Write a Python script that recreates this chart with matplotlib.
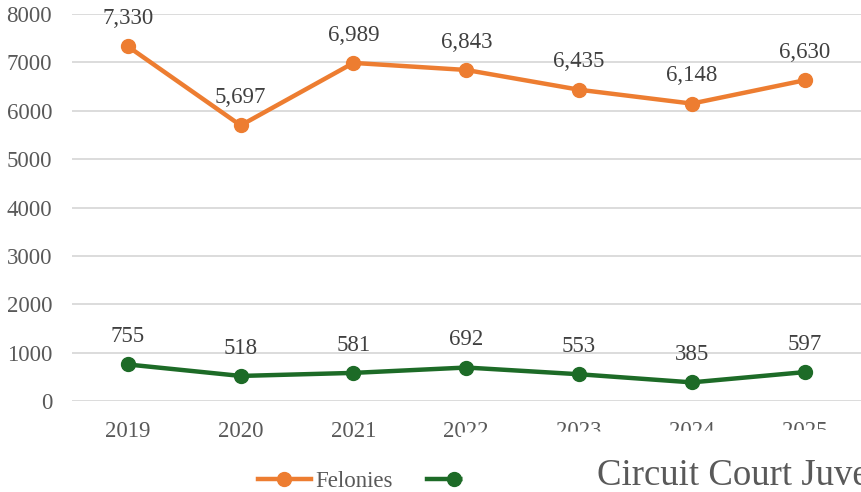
import matplotlib
matplotlib.use("Agg")
import matplotlib.pyplot as plt
from matplotlib.patches import Polygon

years = ["2019", "2020", "2021", "2022", "2023", "2024", "2025"]
felonies = [7330, 5697, 6989, 6843, 6435, 6148, 6630]
other = [755, 518, 581, 692, 553, 385, 597]
yticks = [0, 1000, 2000, 3000, 4000, 5000, 6000, 7000, 8000]

ORANGE = "#ED7D31"
GREEN = "#1D6B27"
SERIF = ["Liberation Serif", "DejaVu Serif"]

fig = plt.figure(figsize=(8.61, 4.92), dpi=100)
ax = fig.add_axes([71.5 / 861, 1 - 401 / 492, 1 - 71.5 / 861, (401 - 14) / 492])

x = list(range(len(years)))
l1, = ax.plot(x, felonies, color=ORANGE, lw=3.2, marker="o", ms=10, zorder=3, clip_on=False)
l2, = ax.plot(x, other, color=GREEN, lw=3.2, marker="o", ms=10, zorder=3, clip_on=False)

for xi, v in zip(x, felonies):
    ax.annotate(f"{v:,}", (xi, v), xytext=(0, 16), textcoords="offset points",
                ha="center", va="baseline", fontsize=16.5, color="#404040", family=SERIF)
for xi, v in zip(x, other):
    ax.annotate(f"{v:,}", (xi, v), xytext=(0, 16), textcoords="offset points",
                ha="center", va="baseline", fontsize=16.5, color="#404040", family=SERIF,
                annotation_clip=False)

ax.set_xlim(-0.5, len(years) - 0.5)
ax.set_ylim(0, 8000)
ax.set_yticks(yticks)
ax.set_yticklabels([str(t) for t in yticks])
ax.set_xticks(x)
ax.set_xticklabels(years)
for lab in ax.get_xticklabels() + ax.get_yticklabels():
    lab.set_family(SERIF)
    lab.set_fontsize(16.5)
    lab.set_color("#595959")
ax.tick_params(axis="both", length=0)
ax.tick_params(axis="y", pad=14)
ax.tick_params(axis="x", pad=14.5)
ax.grid(axis="y", color="#D9D9D9", lw=1.3)
ax.set_axisbelow(True)
for s in ax.spines.values():
    s.set_visible(False)

leg = fig.legend([l1, l2], ["Felonies", ""], loc="center left",
                 bbox_to_anchor=(258 / 861, 1 - 481 / 492), bbox_transform=fig.transFigure,
                 ncol=2, frameon=False, borderpad=0, borderaxespad=0,
                 handlelength=2.3, handletextpad=0.2, columnspacing=1.5,
                 prop={"family": SERIF, "size": 16.5})
for t in leg.get_texts():
    t.set_color("#595959")

# white box overlapping the lower right (as in the source)
poly = Polygon([(461 / 861, 1 - 432.5 / 492), (1, 1 - 429.5 / 492), (1, 0), (463 / 861, 0)],
               closed=True, transform=fig.transFigure, facecolor="white",
               edgecolor="none", zorder=10)
fig.add_artist(poly)

fig.text(597 / 861, 1 - 485 / 492, "Circuit Court Juve", fontsize=26.5,
         family=SERIF, color="#595959", ha="left", va="baseline", zorder=11)

fig.savefig("out.png", dpi=100)
